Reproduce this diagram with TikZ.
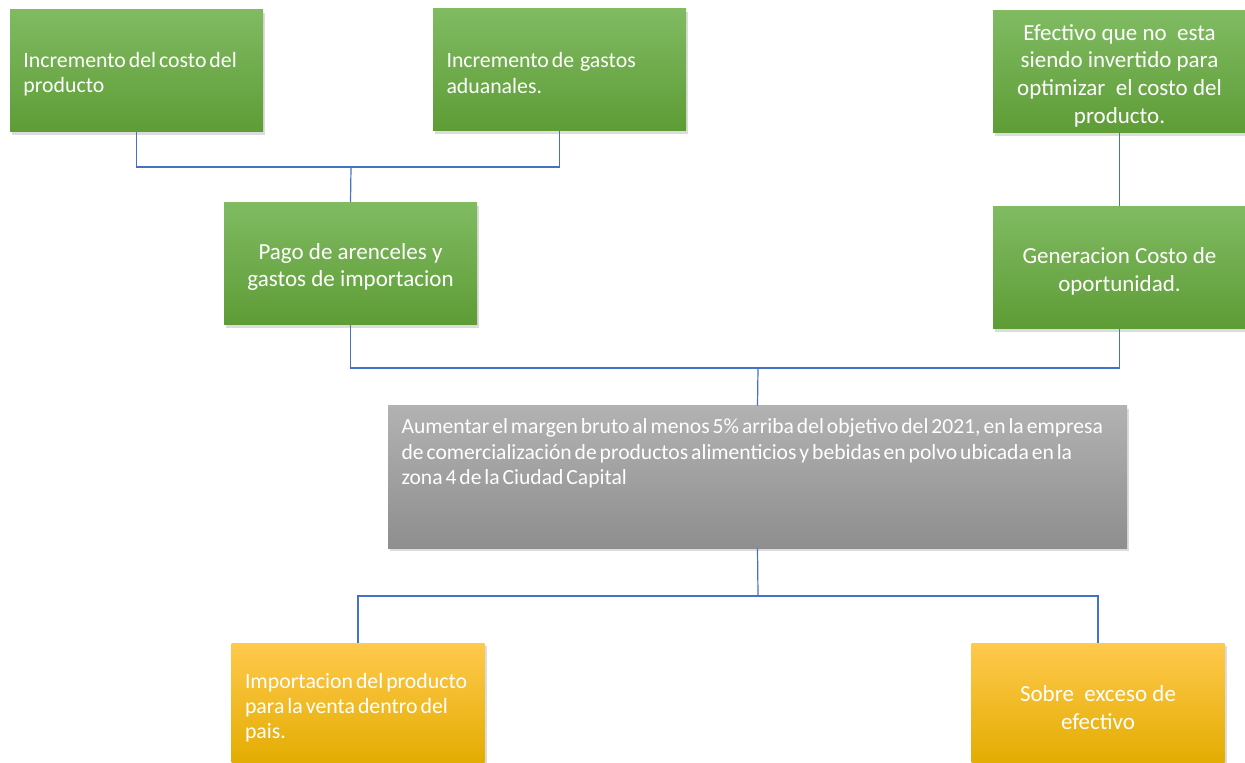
\documentclass[tikz,border=0pt]{standalone}
\usepackage{fontspec}
\setmainfont{Carlito}
\newfontfamily\apretada[WordSpace=0.6]{Carlito}
\usepackage{tikz}
\usetikzlibrary{shadows}
\hyphenpenalty=10000
\definecolor{verdeA}{HTML}{80BB62}
\definecolor{verdeB}{HTML}{5E9C36}
\definecolor{grisA}{HTML}{B2B2B2}
\definecolor{grisB}{HTML}{8E8E8E}
\definecolor{naranjaA}{HTML}{FFC94D}
\definecolor{naranjaM}{HTML}{FFC000}
\definecolor{naranjaB}{HTML}{E3AC00}
\definecolor{conector}{HTML}{4472C4}
\tikzstyle{line} = [draw, color=conector, line width=0.6pt]

\begin{document}
\begin{tikzpicture}[x=0.5pt, y=-0.5pt,
		caja/.style={draw=none, minimum width=126.5pt, minimum height=61pt, inner sep=0pt, text=white,
			drop shadow={opacity=0.28, shadow xshift=1pt, shadow yshift=-1.6pt}},
		verde/.style={caja, top color=verdeA, bottom color=verdeB},
		naranja/.style={caja, top color=naranjaA, middle color=naranjaM, bottom color=naranjaB},
		izq/.style={align=flush left, text width=113pt, font=\apretada\fontsize{10.9}{12.6}\selectfont,
			execute at begin node={\rule{0pt}{11pt}}},
		centro/.style={align=flush center, text width=122pt, font=\fontsize{11.5}{13.8}\selectfont,
			execute at begin node={\rule{0pt}{11.6pt}}},
		chico/.style={font=\apretada\fontsize{10.8}{12.6}\selectfont}]
	\useasboundingbox (0,0) rectangle (1245,763);
	\clip (0,0) rectangle (1245,763);
	% causas
	\node[verde, izq] (costo) at (136.5,71) {Incremento del costo del\\producto};
	\node[verde, izq] (aduana) at (559.5,69.5) {Incremento de\ \ gastos\\aduanales.};
	\node[verde, centro] (efectivo) at (1119.5,72) {Efectivo que no\ \ esta\\siendo invertido para\\optimizar\ \ el costo del\\producto.};
	\node[verde, centro] (pago) at (350.5,263.5) {Pago de arenceles y\\gastos de importacion};
	\node[verde, centro] (oportunidad) at (1119.5,267.5) {Generacion Costo de\\oportunidad.};
	% problema central
	\node[caja, minimum width=369.5pt, minimum height=71pt, top color=grisA, bottom color=grisB, chico] (margen) at (757.5,477)
		{\parbox[c][58pt][t]{356pt}{\raggedright Aumentar el margen bruto al menos 5\% arriba del objetivo del 2021, en la empresa\\de comercialización de productos alimenticios y bebidas en polvo ubicada en la\\zona 4 de la Ciudad Capital}};
	% efectos
	\node[naranja, izq] (importacion) at (358,704) {Importacion del producto\\para la venta dentro del\\pais.};
	\node[naranja, centro] (exceso) at (1098,704) {Sobre\ \ exceso de\\efectivo};
	% conectores
	\coordinate (j1) at (351,167);
	\coordinate (j2) at (758,368);
	\coordinate (j3) at (758,596);
	\draw[line] (costo.south) |- (j1) -| (aduana.south);
	\draw[line] (j1) -- (pago.north);
	\draw[line] (efectivo.south) -- (oportunidad.north);
	\draw[line] (pago.south) |- (j2) -| (oportunidad.south);
	\draw[line] (j2) -- (margen.north);
	\draw[line] (margen.south) -- (j3);
	\draw[line] (j3) -| (importacion.north);
	\draw[line] (j3) -| (exceso.north);
\end{tikzpicture}
\end{document}
